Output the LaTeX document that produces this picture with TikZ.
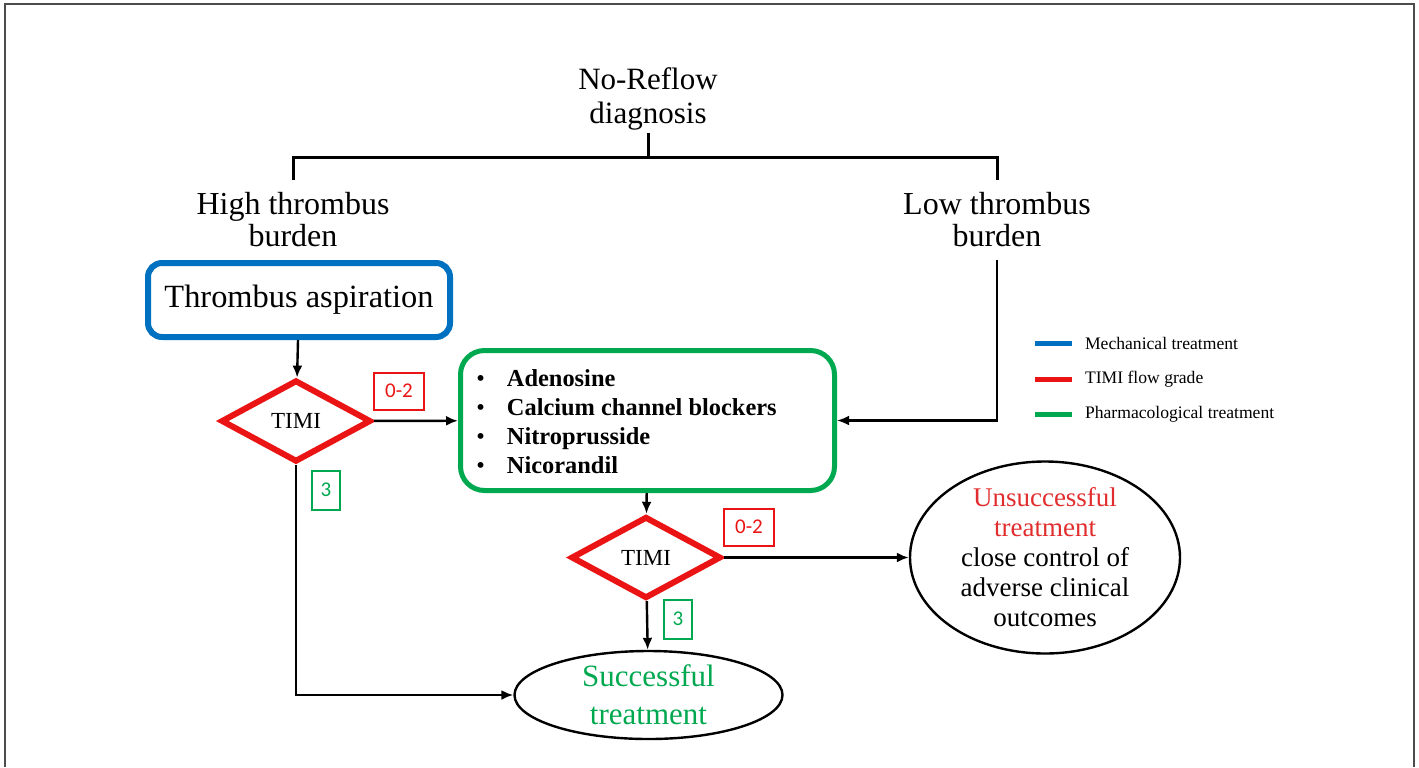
\documentclass[tikz,border=0pt]{standalone}
\usepackage{fontspec}
\setmainfont{Liberation Serif}
\newfontfamily\calibri{Carlito}
\usetikzlibrary{shapes.geometric,arrows.meta}
\definecolor{mechblue}{RGB}{0,112,192}
\definecolor{timired}{RGB}{235,20,20}
\definecolor{pharmgreen}{RGB}{0,168,80}
\definecolor{badred}{RGB}{225,45,45}

\begin{document}
\begin{tikzpicture}[x=0.5pt,y=-0.5pt,
    mech/.style={draw=mechblue, line width=3pt, rounded corners=7pt, minimum width=151pt, minimum height=37pt, font=\fontsize{16.2}{17}\selectfont},
    timi/.style={diamond, draw=timired, line width=3pt, minimum width=75pt, minimum height=41pt, inner sep=0pt, font=\fontsize{11.5}{13}\selectfont},
    pharm/.style={draw=pharmgreen, line width=2.5pt, rounded corners=12pt, minimum width=187pt, minimum height=70pt},
    outcome/.style={ellipse, draw, line width=1.2pt, inner sep=0pt},
    grade/.style={draw, line width=1pt, inner sep=0pt, font=\calibri\fontsize{10.5}{11}\selectfont},
    head/.style={align=center, inner sep=6pt, font=\fontsize{16}{16}\selectfont},
    arr/.style={line width=1.2pt, -{Latex[length=6pt,width=5pt]}},
    key/.style={minimum width=18.5pt, minimum height=2.5pt, inner sep=0pt},
  ]
  \useasboundingbox (0,0) rectangle (1419,767);
  \draw[gray!60!black, line width=1.2pt] (5,767) -- (5,4) -- (1414,4) -- (1414,767);

  % Nodes
  \node[align=center, inner sep=1pt, font=\fontsize{15.5}{17}\selectfont] (diag) at (648,99) {No-Reflow\\diagnosis} ; %
  \node[head] (high) at (293,220) {High thrombus\\burden} ; %
  \node[head] (low) at (997,220) {Low thrombus\\burden} ; %
  \node[mech] (asp) at (299,300) {Thrombus aspiration} ; %
  \node[timi] (timi1) at (296,421) {TIMI} ; %
  \node[pharm] (drugs) at (647.5,420.5) {} ; %
  \node[anchor=west, align=left, inner sep=0pt, font=\bfseries\fontsize{12.2}{14.5}\selectfont] (druglist) at (476,421.5)
    {{\mdseries\textbullet}\hspace{11pt}Adenosine\\ {\mdseries\textbullet}\hspace{11pt}Calcium channel blockers\\ {\mdseries\textbullet}\hspace{11pt}Nitroprusside\\ {\mdseries\textbullet}\hspace{11pt}Nicorandil} ; %
  \node[timi] (timi2) at (646,557.5) {TIMI} ; %
  \node[outcome, minimum width=135pt, minimum height=96pt] (unsucc) at (1045,557.5) {} ; %
  \node[align=center, font=\fontsize{13.5}{15}\selectfont] (unsucctxt) at (unsucc)
    {\textcolor{badred}{Unsuccessful}\\ \textcolor{badred}{treatment}\\ close control of\\ adverse clinical\\ outcomes} ; %
  \node[outcome, minimum width=134pt, minimum height=44pt] (succ) at (648.5,695) {} ; %
  \node[align=center, text=pharmgreen, font=\fontsize{15.5}{19}\selectfont] (succtxt) at (succ) {Successful\\treatment} ; %

  % Grades
  \node[grade, draw=timired, text=timired, minimum width=25pt, minimum height=18.5pt] (g1) at (399,391) {0-2} ; %
  \node[grade, draw=pharmgreen, text=pharmgreen, minimum width=14pt, minimum height=19.5pt] (g2) at (326,490) {3} ; %
  \node[grade, draw=timired, text=timired, minimum width=25pt, minimum height=18.5pt] (g3) at (749,527) {0-2} ; %
  \node[grade, draw=pharmgreen, text=pharmgreen, minimum width=14pt, minimum height=19.5pt] (g4) at (678,619) {3} ; %

  % Bracket
  \coordinate (brk) at (648,157) ; %
  \draw[line width=1.5pt] (diag.south) -- (brk) ; %
  \draw[line width=1.5pt] (high.north) |- (brk) -| (low.north) ; %

  % Edges
  \draw[arr] (asp) -- (timi1) ; %
  \draw[arr] (timi1) -- (drugs) ; %
  \draw[arr] (low.south) |- (drugs.east) ; %
  \draw[arr] (drugs) -- (timi2) ; %
  \draw[arr] (timi2) -- (unsucc) ; %
  \draw[arr] (timi2) -- (succ) ; %
  \draw[arr] (timi1) |- (succ) ; %

  % Legend
  \node[key, fill=mechblue] (k1) at (1053.5,343) {} ; %
  \node[key, fill=timired] (k2) at (1053.5,379) {} ; %
  \node[key, fill=pharmgreen] (k3) at (1053.5,414) {} ; %
  \node[anchor=west, font=\fontsize{8.8}{10}\selectfont] (t1) at (1078,343) {Mechanical treatment} ; %
  \node[anchor=west, font=\fontsize{8.8}{10}\selectfont] (t2) at (1078,379) {TIMI flow grade} ; %
  \node[anchor=west, font=\fontsize{8.8}{10}\selectfont] (t3) at (1078,414) {Pharmacological treatment} ; %
\end{tikzpicture}
\end{document}
